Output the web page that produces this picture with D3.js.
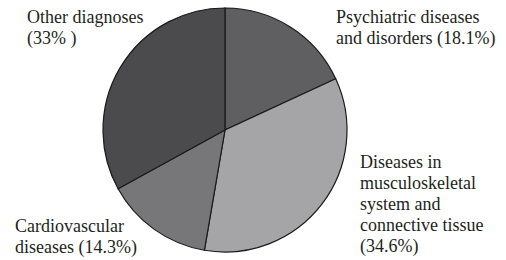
<!DOCTYPE html>
<html>
<head>
<meta charset="utf-8">
<script src="https://cdn.jsdelivr.net/npm/d3@7"></script>
</head>
<body style="margin:0">
<svg id="chart" width="506" height="260"></svg>
<script>
  // Slices, clockwise from 12 o'clock
  const categories = ["Psychiatric", "Musculoskeletal", "Cardiovascular", "Other"];
  const values = [18.1, 34.6, 14.3, 33];
  const colors = ["#5f5f61", "#a5a5a7", "#77777a", "#4b4b4d"];
  const labelLines = [
    ["Psychiatric diseases", "and disorders (18.1%)"],
    ["Diseases in", "musculoskeletal", "system and", "connective tissue", "(34.6%)"],
    ["Cardiovascular", "diseases (14.3%)"],
    ["Other diagnoses", "(33% )"]
  ];
  // label anchor (left x, first baseline y)
  const labelPos = [[336, 23], [360, 168], [15, 232], [27, 23]];

  const svg = d3.select("#chart");
  const cx = 225, cy = 130, radius = 122;

  const pie = d3.pie().sort(null).value(d => d.value);
  const arc = d3.arc().innerRadius(0).outerRadius(radius);

  const data = categories.map((c, i) => ({ name: c, value: values[i] }));

  svg.append("g")
    .attr("transform", `translate(${cx},${cy})`)
    .selectAll("path")
    .data(pie(data))
    .join("path")
    .attr("d", arc)
    .attr("fill", (d, i) => colors[i])
    .attr("stroke", "#1a1a1a")
    .attr("stroke-width", 1.2);

  // Labels: one text element per line
  const lineH = 21;
  const lines = [];
  labelLines.forEach((ls, i) => {
    ls.forEach((t, j) => lines.push({ text: t, x: labelPos[i][0], y: labelPos[i][1] + j * lineH }));
  });

  svg.selectAll("text")
    .data(lines)
    .join("text")
    .attr("font-family", "Times New Roman")
    .attr("font-size", 18)
    .attr("fill", "#231f20")
    .attr("x", d => d.x)
    .attr("y", d => d.y)
    .text(d => d.text);
</script>
</body>
</html>
